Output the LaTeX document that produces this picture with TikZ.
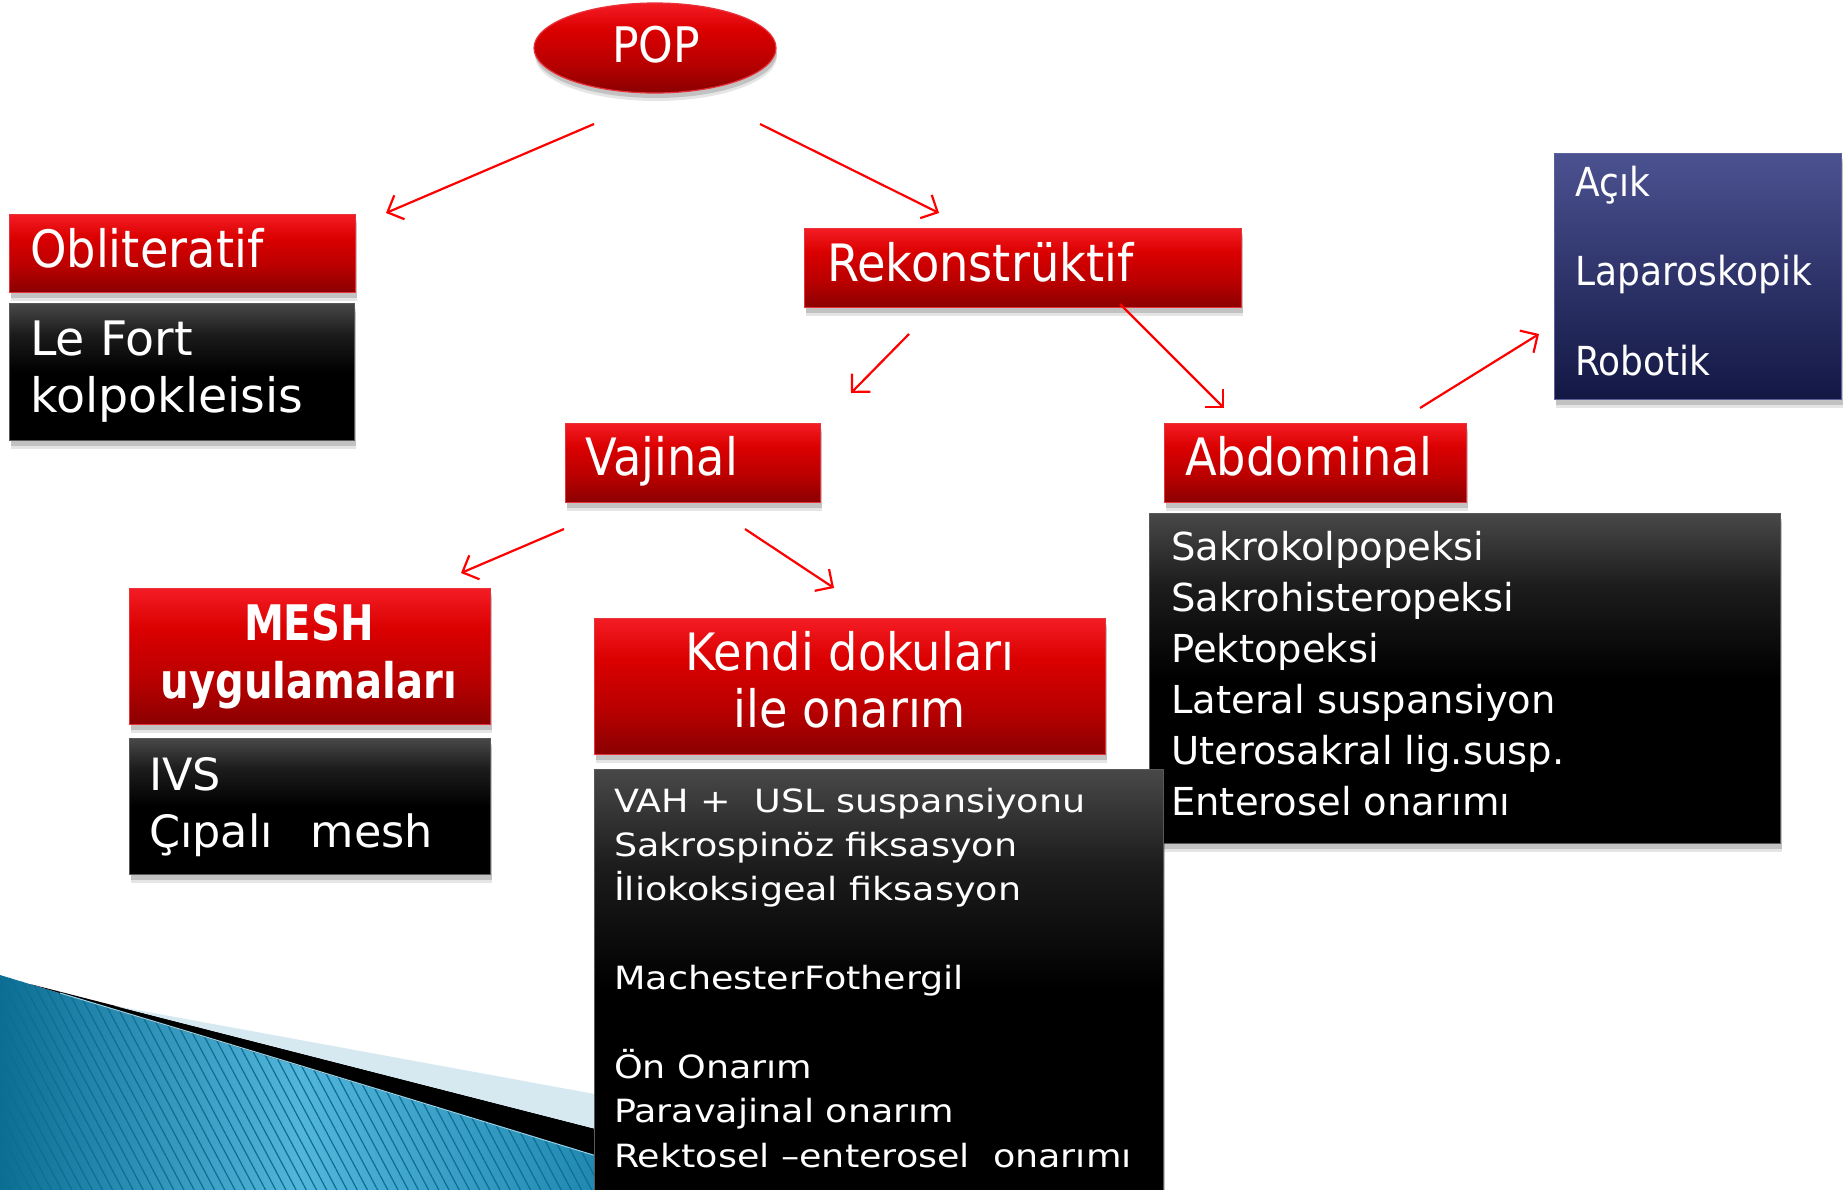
\documentclass[tikz,border=0pt]{standalone}
\usepackage{fontspec}
\setmainfont{DejaVu Sans}
\newfontfamily\fN{DejaVu Sans}
\newfontfamily\fC[FakeStretch=0.9]{DejaVu Sans}
\newfontfamily\fW[FakeStretch=1.14]{DejaVu Sans}
\newfontfamily\fB[FakeStretch=0.82]{DejaVu Sans}
\usetikzlibrary{shapes.geometric,arrows.meta,shadows,patterns.meta}
\definecolor{rB}{HTML}{8A0000}
\definecolor{rD}{HTML}{BA0000}
\definecolor{rM}{HTML}{DA0000}
\definecolor{rT}{HTML}{F41C24}
\definecolor{rBd}{HTML}{E8323A}
\definecolor{gT}{HTML}{484848}
\definecolor{gM}{HTML}{1C1C1C}
\definecolor{bT}{HTML}{4B5290}
\definecolor{bB}{HTML}{121744}
\definecolor{bBd}{HTML}{5A6098}
\definecolor{tealL}{HTML}{0D6E94}
\definecolor{tealM}{HTML}{52B6DB}
\definecolor{tealR}{HTML}{2088B0}
\definecolor{lband}{HTML}{D6E9F1}
\pgfdeclareverticalshading{redsh}{100bp}{color(0bp)=(rB); color(25bp)=(rB); color(42bp)=(rD); color(60bp)=(rM); color(75bp)=(rT); color(100bp)=(rT)}
\pgfdeclareverticalshading{blksh}{100bp}{color(0bp)=(black); color(25bp)=(black); color(50bp)=(black); color(64bp)=(gM); color(75bp)=(gT); color(100bp)=(gT)}
\pgfdeclareverticalshading{blush}{100bp}{color(0bp)=(bB); color(25bp)=(bB); color(75bp)=(bT); color(100bp)=(bT)}
\tikzset{
  shad/.style={drop shadow={shadow xshift=1pt, shadow yshift=-8pt, opacity=0.10, fill=black},
               drop shadow={shadow xshift=1pt, shadow yshift=-5pt, opacity=0.15, fill=black}},
  redbox/.style={rectangle, inner sep=0pt, shade, shading=redsh, draw=rBd, line width=1.2pt, shad, anchor=north west},
  blkbox/.style={rectangle, inner sep=0pt, shade, shading=blksh, draw=black!65, line width=1.2pt, shad, anchor=north west},
  blubox/.style={rectangle, inner sep=0pt, shade, shading=blush, draw=bBd, line width=1.2pt, shad, anchor=north west},
  txt/.style={inner sep=0pt, text=white, anchor=base west},
  hd/.style={txt, font=\fC\fontsize{51.5}{60}\selectfont},
  hdc/.style={hd, anchor=base},
  mesht/.style={txt, anchor=base, font=\fB\bfseries\fontsize{49}{58}\selectfont},
  lf/.style={txt, font=\fN\fontsize{47.5}{56}\selectfont},
  ivst/.style={txt, font=\fN\fontsize{44.5}{54}\selectfont},
  kl/.style={txt, font=\fW\fontsize{32}{40}\selectfont},
  al/.style={txt, font=\fN\fontsize{38.5}{46}\selectfont},
  bl/.style={txt, font=\fC\fontsize{40}{48}\selectfont},
  arr/.style={draw=red, line width=2.2pt, -{Straight Barb[length=13pt,width=26pt,line width=2.2pt]}}
}
\begin{document}
\begin{tikzpicture}[x=1pt,y=-1pt]
\useasboundingbox (0,0) rectangle (1843,1189);
\fill[white] (0,0) rectangle (1843,1189);

% decorative corner (bottom left)
\shade[left color=tealL, right color=tealR, middle color=tealM] (0,975) .. controls (200,1036) and (400,1096) .. (600,1157) -- (600,1195) -- (0,1195) -- cycle;
\fill[pattern={Lines[angle=-62,distance=9pt,line width=1.2pt]}, pattern color=tealL, fill opacity=0.35] (0,975) .. controls (200,1036) and (400,1096) .. (600,1157) -- (600,1195) -- (0,1195) -- cycle;
\fill[black] (30,984) -- (600,1130) -- (600,1157) .. controls (400,1096) and (200,1036) .. (30,984) -- cycle;
\fill[lband] (115,1006) -- (600,1095) -- (600,1130) -- cycle;
\draw[tealM!60!white, line width=1pt] (60,993) .. controls (250,1050) and (420,1102) .. (600,1157);

% POP
\node[ellipse, inner sep=0pt, shade, shading=redsh, draw=rBd, line width=1.2pt, shad, minimum width=242pt, minimum height=90pt] (pop) at (655,48) {};
\node[txt, anchor=base, font=\fC\fontsize{49}{58}\selectfont] (popt) at (656,62) {POP};

% left branch
\node[redbox, minimum width=346pt, minimum height=78pt] (obl) at (9,214) {};
\node[hd] (oblt) at (30,267) {Obliteratif};
\node[blkbox, minimum width=345pt, minimum height=137pt] (lef) at (9,303) {};
\node[lf] (lef1) at (30,355) {Le Fort};
\node[lf] (lef2) at (30,412) {kolpokleisis};

% Rekonstruktif
\node[redbox, minimum width=437pt, minimum height=79pt] (rek) at (804,228) {};
\node[hd] (rekt) at (827,281) {Rekonstrüktif};

% Vajinal / Abdominal
\node[redbox, minimum width=255pt, minimum height=79pt] (vaj) at (565,423) {};
\node[hd] (vajt) at (585,475) {Vajinal};
\node[redbox, minimum width=302pt, minimum height=79pt] (abd) at (1164,423) {};
\node[hd] (abdt) at (1185,475) {Abdominal};

% blue box
\node[blubox, minimum width=287pt, minimum height=246pt] (blu) at (1554,153) {};
\foreach \k/\t in {0/Açık, 1/Laparoskopik, 2/Robotik}
  \node[bl] (bl\k) at (1575,{196+89.5*\k}) {\t};

% abdominal list
\node[blkbox, minimum width=631pt, minimum height=330pt] (abl) at (1149,513) {};
\foreach \k/\t in {0/Sakrokolpopeksi, 1/Sakrohisteropeksi, 2/Pektopeksi, 3/Lateral suspansiyon, 4/Uterosakral lig.susp., 5/Enterosel onarımı}
  \node[al] (al\k) at (1171,{560+51*\k}) {\t};

% MESH
\node[redbox, minimum width=361pt, minimum height=136pt] (mesh) at (129,588) {};
\node[mesht] (mesh1) at (309,640) {MESH};
\node[mesht] (mesh2) at (309,698) {uygulamaları};
\node[blkbox, minimum width=361pt, minimum height=136pt] (ivs) at (129,738) {};
\node[ivst] (ivs1) at (149,790) {IVS};
\node[ivst] (ivs2) at (149,847) {Çıpalı\hspace{38pt}mesh};

% Kendi dokulari
\node[redbox, minimum width=511pt, minimum height=136pt] (ken) at (594,618) {};
\node[hdc] (ken1) at (850,670) {Kendi dokuları};
\node[hdc] (ken2) at (850,727) {ile onarım};
\node[blkbox, minimum width=569pt, minimum height=440pt] (kbl) at (594,769) {};
\foreach \k/\t in {0/{VAH +\ \ USL suspansiyonu}, 1/Sakrospinöz fiksasyon, 2/İliokoksigeal fiksasyon, 4/MachesterFothergil, 6/Ön Onarım, 7/Paravajinal onarım, 8/{Rektosel –enterosel\ \ onarımı}}
  \node[kl] (kl\k) at (614,{812+44.4*\k}) {\t};

% connectors
\coordinate (a1s) at (594,124); \coordinate (a1e) at (386,213);
\coordinate (a2s) at (760,124); \coordinate (a2e) at (939,213);
\coordinate (a3s) at (909,334); \coordinate (a3e) at (851,393);
\coordinate (a4s) at (1120,304); \coordinate (a4e) at (1224,408);
\coordinate (a5s) at (564,529); \coordinate (a5e) at (461,573);
\coordinate (a6s) at (745,529); \coordinate (a6e) at (834,588);
\coordinate (a7s) at (1420,408); \coordinate (a7e) at (1539,334);
\draw[arr] (a1s) -- (a1e);
\draw[arr] (a2s) -- (a2e);
\draw[arr] (a3s) -- (a3e);
\draw[arr] (a4s) -- (a4e);
\draw[arr] (a5s) -- (a5e);
\draw[arr] (a6s) -- (a6e);
\draw[arr] (a7s) -- (a7e);
\end{tikzpicture}
\end{document}
